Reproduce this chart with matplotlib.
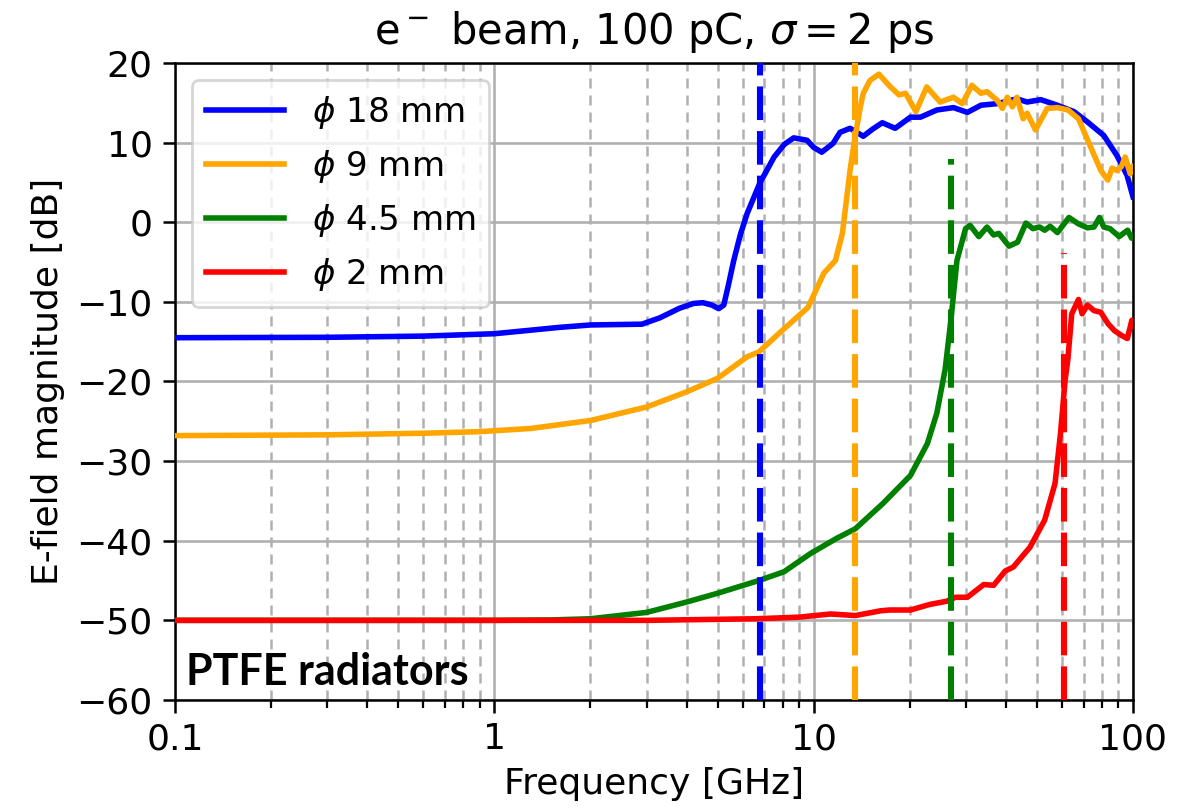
import matplotlib
matplotlib.use('Agg')
import matplotlib.pyplot as plt
from matplotlib.ticker import FuncFormatter, LogLocator

# Curvas (frequência em GHz, campo em dB)
blue_f = [0.1, 0.3, 0.6, 1.0, 1.6, 2.0, 2.9, 3.3, 3.8, 4.2, 4.5, 4.8, 5.04, 5.23, 5.4, 5.62,
          5.9, 6.19, 6.78, 7.52, 8.1, 8.66, 9.53, 10.0, 10.6, 11.5, 12.1, 13.0, 14.3, 15.3,
          16.4, 18.0, 20.1, 21.6, 24.3, 27.4, 30.3, 33.4, 37.6, 43.3, 46.6, 51.4, 57.9, 65.3,
          72, 81, 89, 95.8, 100]
blue_db = [-14.5, -14.45, -14.3, -14.0, -13.2, -12.9, -12.8, -12.0, -10.8, -10.2, -10.1, -10.4,
           -10.85, -10.4, -8.0, -4.8, -1.5, 1.1, 4.9, 8.2, 9.8, 10.6, 10.3, 9.4, 8.8, 9.9, 11.3,
           11.8, 10.8, 11.7, 12.5, 11.8, 13.2, 13.2, 14.1, 14.4, 13.8, 14.7, 14.9, 15.5, 15.1,
           15.4, 14.7, 13.9, 12.6, 10.9, 8.4, 5.9, 3.2]

orange_f = [0.1, 0.3, 0.6, 0.9, 1.3, 2.0, 3.0, 4.0, 5.0, 6.19, 6.73, 8.07, 9.6, 10.76, 11.7,
            12.3, 13.0, 13.4, 14.0, 14.3, 15.0, 16.0, 17.4, 18.5, 19.4, 20.9, 22.6, 24.9, 27.4,
            29.2, 31.3, 33.4, 34.9, 37.6, 39.0, 40.4, 41.9, 43.3, 45.3, 46.6, 49.5, 53.9, 58,
            62.6, 67.5, 73.6, 79.3, 83.4, 86, 89, 92, 94.5, 98, 100]
orange_db = [-26.8, -26.7, -26.5, -26.3, -25.9, -24.9, -23.2, -21.3, -19.6, -16.9, -16.3, -13.4,
             -10.7, -6.4, -4.8, -1.4, 6.5, 10.1, 14.5, 16.2, 17.8, 18.6, 17.0, 16.0, 16.2, 13.9,
             17.0, 15.1, 15.7, 14.9, 17.2, 16.2, 16.4, 15.3, 14.3, 15.7, 14.5, 15.7, 13.0, 13.7,
             11.6, 14.3, 14.4, 14.1, 13.0, 9.5, 6.5, 5.3, 6.8, 6.5, 7.0, 8.2, 6.1, 7.0]

green_f = [0.1, 0.5, 1.0, 1.5, 2.0, 3.0, 4.0, 5.0, 6.73, 8.07, 9.78, 11.8, 13.5, 16.5, 20.1,
           22.7, 24.3, 25.8, 26.9, 28.1, 29.9, 30.9, 32.9, 34.9, 36.6, 38.0, 40.9, 43.5, 46.2,
           48.6, 51.0, 52.9, 55.0, 58.0, 63.0, 67.5, 72.0, 75.5, 78.5, 81.0, 84.7, 90.5, 96.2,
           99, 100]
green_db = [-50.0, -50.0, -50.0, -49.95, -49.8, -49.0, -47.7, -46.6, -45.0, -43.9, -41.6, -39.7,
            -38.5, -35.3, -31.8, -27.8, -24.0, -18.5, -12.3, -4.8, -0.8, -0.4, -1.8, -0.6, -1.6,
            -1.4, -3.0, -2.5, -0.1, -0.8, -0.6, -1.0, -0.5, -1.3, 0.6, -0.2, -0.7, -0.6, 0.6,
            -0.6, -0.8, -1.8, -1.0, -2.0, -1.8]

red_f = [0.1, 1.0, 3.0, 6.6, 9.0, 11.3, 13.5, 16.2, 17.3, 20.1, 23.1, 26.1, 27.8, 30.3, 34.1,
         36.6, 39.8, 42.2, 47.6, 52.9, 57.0, 59.3, 61.3, 62.5, 64.3, 67.5, 69.3, 72.0, 75.5,
         79.3, 83.4, 87.4, 91.9, 96.0, 99.2, 100]
red_db = [-50.0, -50.0, -50.0, -49.8, -49.6, -49.2, -49.4, -48.8, -48.7, -48.7, -48.0, -47.6,
          -47.1, -47.1, -45.5, -45.6, -43.8, -43.3, -40.8, -37.4, -32.8, -26.5, -19.8, -17.3,
          -11.5, -9.7, -11.5, -10.4, -11.1, -11.3, -12.7, -13.6, -14.2, -14.6, -12.3, -13.0]

SERIES = [
    (blue_f, blue_db, 'blue', r'$\phi$ 18 mm'),
    (orange_f, orange_db, 'orange', r'$\phi$ 9 mm'),
    (green_f, green_db, 'green', r'$\phi$ 4.5 mm'),
    (red_f, red_db, 'red', r'$\phi$ 2 mm'),
]

# Frequências de corte (linhas verticais tracejadas) e topo de cada linha
cut_f = [6.8, 13.5, 26.9, 60.7]
cut_top = [20, 20, 8, -3.9]
cut_cores = ['blue', 'orange', 'green', 'red']

plt.rcParams['font.family'] = 'DejaVu Sans'
plt.rcParams['font.size'] = 13
plt.rcParams['axes.linewidth'] = 0.9

fig = plt.figure(figsize=(5.94, 4.04), dpi=200)
ax = fig.add_axes([0.1473, 0.1337, 0.8064, 0.7883])

for f, db, cor, lab in SERIES:
    ax.plot(f, db, color=cor, linewidth=2.0, label=lab, zorder=3)

for f, top, cor in zip(cut_f, cut_top, cut_cores):
    ax.plot([f, f], [-60, top], color=cor, linewidth=2.2, dashes=(5.5, 1.8), zorder=4)

ax.set_xscale('log')
ax.set_xlim(0.1, 100)
ax.set_ylim(-60, 20)
ax.set_yticks(range(-60, 21, 10))
ax.xaxis.set_major_formatter(FuncFormatter(lambda v, p: f'{v:g}'))
ax.xaxis.set_minor_locator(LogLocator(base=10, subs=range(2, 10)))
ax.tick_params(which='major', length=4.5, width=0.9)
ax.tick_params(which='minor', length=3, width=0.8)

ax.grid(True, which='major', color='#b0b0b0', linewidth=0.95)
ax.grid(True, which='minor', axis='x', color='#b0b0b0', linewidth=0.9,
        linestyle=(0, (4.0, 2.8)))

ax.set_xlabel('Frequency [GHz]', labelpad=4)
ax.set_ylabel('E-field magnitude [dB]')
ax.set_title(r'e$^-$ beam, 100 pC, $\sigma = 2$ ps', fontsize=15, pad=7)

ax.legend(loc='upper left', fontsize=12.3, handlelength=2.3, labelspacing=0.5)

ax.text(0.0115, 0.024, 'PTFE radiators', transform=ax.transAxes, fontsize=15.5,
        fontweight='bold', family='Lato', ha='left', va='baseline', zorder=5)

fig.savefig('out.png', dpi=200)
